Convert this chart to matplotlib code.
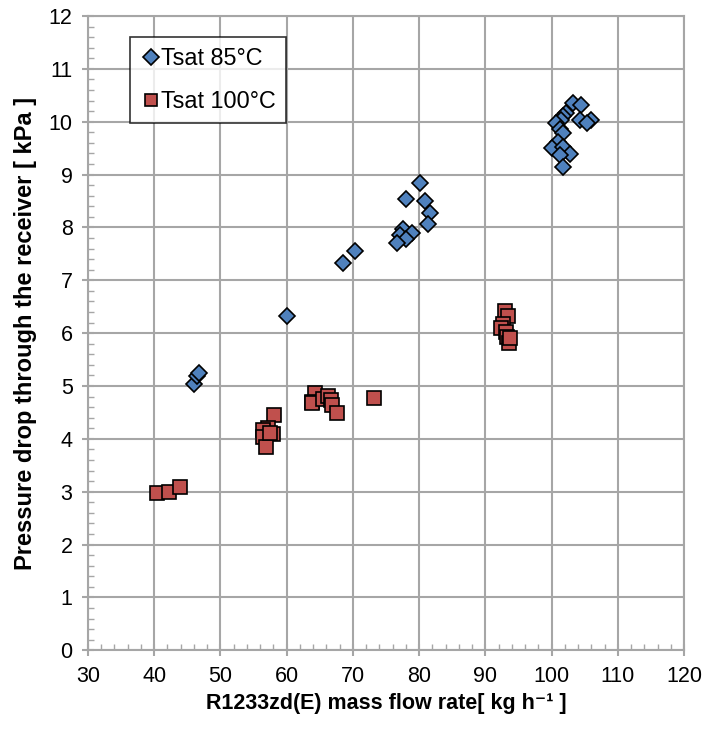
import numpy as np
import matplotlib.pyplot as plt
from matplotlib.ticker import MultipleLocator

plt.rcParams['font.family'] = ['Liberation Sans', 'DejaVu Sans']

# Tsat 85 C
x85 = [46.0, 46.5, 46.8, 60.0, 68.5, 70.3,
       80.1, 78.0, 80.9, 81.7, 81.4, 77.6, 77.1, 78.9, 78.1, 76.7,
       103.3, 104.5, 102.2, 101.8, 101.4, 100.7, 104.3, 106.0, 105.3,
       101.3, 101.8, 101.0, 100.0, 101.8, 102.8, 101.3, 101.7]
y85 = [5.03, 5.18, 5.25, 6.32, 7.32, 7.55,
       8.85, 8.53, 8.50, 8.28, 8.06, 7.98, 7.86, 7.89, 7.79, 7.70,
       10.36, 10.32, 10.17, 10.11, 10.04, 9.97, 10.03, 10.04, 9.97,
       9.87, 9.78, 9.62, 9.50, 9.53, 9.39, 9.37, 9.15]

# Tsat 100 C
x100 = [40.5, 42.2, 43.9,
        58.1, 57.2, 56.5, 58.0, 56.5, 56.9, 57.5,
        64.3, 63.9, 63.8, 65.5, 66.3, 66.7, 66.8, 67.6,
        73.2,
        92.9, 93.5, 92.6, 92.3, 93.1, 93.3, 93.6, 93.8]
y100 = [2.98, 2.99, 3.08,
        4.45, 4.20, 4.16, 4.10, 4.04, 3.85, 4.12,
        4.86, 4.70, 4.67, 4.75, 4.81, 4.73, 4.64, 4.49,
        4.77,
        6.42, 6.33, 6.18, 6.09, 6.03, 5.93, 5.82, 5.90]

fig = plt.figure(figsize=(7.03, 7.29), dpi=100)
ax = fig.add_axes([0.125, 0.108, 0.848, 0.870])

ax.plot(x85, y85, 'D', ms=8.5, mfc='#4F81BD', mec='black', mew=1.2,
        label='Tsat 85°C', zorder=3)
ax.plot(x100, y100, 's', ms=10, mfc='#C0504D', mec='black', mew=1.2,
        label='Tsat 100°C', zorder=3)

ax.set_xlim(30, 120)
ax.set_ylim(0, 12)
ax.xaxis.set_major_locator(MultipleLocator(10))
ax.xaxis.set_minor_locator(MultipleLocator(2))
ax.yaxis.set_major_locator(MultipleLocator(1))
ax.yaxis.set_minor_locator(MultipleLocator(0.2))
ax.grid(True, which='major', color='#a6a6a6', lw=1.5, zorder=0)
ax.tick_params(which='major', direction='inout', length=8, width=1.5,
               color='#a6a6a6', labelsize=15.5, pad=7)
ax.tick_params(which='minor', direction='in', length=4, width=1,
               color='#a6a6a6')
for s in ax.spines.values():
    s.set_color('#a6a6a6')
    s.set_linewidth(1.5)

ax.set_xlabel('R1233zd(E) mass flow rate[ kg h⁻¹ ]', fontsize=15.5,
              fontweight='bold', labelpad=5)
ax.set_ylabel('Pressure drop through the receiver [ kPa ]', fontsize=17,
              fontweight='bold', labelpad=8)

leg = ax.legend(loc='upper left', bbox_to_anchor=(0.062, 0.975), fontsize=16.8,
                frameon=True, fancybox=False, edgecolor='black',
                handletextpad=0.0, handlelength=0.9, borderpad=0.45,
                borderaxespad=0.2, labelspacing=0.85, markerscale=0.9)
leg.get_frame().set_linewidth(1.2)

fig.savefig('out.png', dpi=100)
